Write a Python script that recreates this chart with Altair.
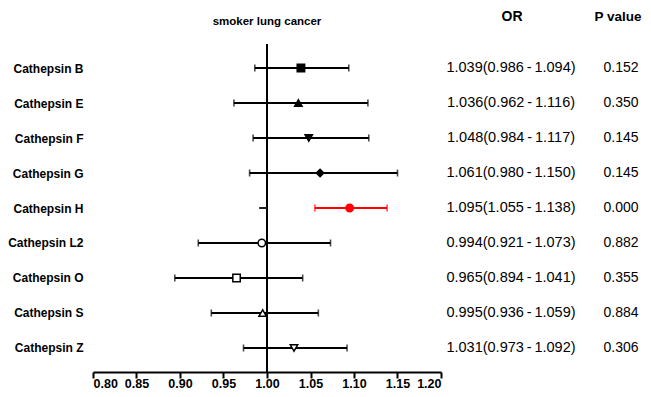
import altair as alt
import pandas as pd

names = ["Cathepsin B", "Cathepsin E", "Cathepsin F", "Cathepsin G", "Cathepsin H",
         "Cathepsin L2", "Cathepsin O", "Cathepsin S", "Cathepsin Z"]
odds = [1.039, 1.036, 1.048, 1.061, 1.095, 0.994, 0.965, 0.995, 1.031]
lower = [0.986, 0.962, 0.984, 0.980, 1.055, 0.921, 0.894, 0.936, 0.973]
upper = [1.094, 1.116, 1.117, 1.150, 1.138, 1.073, 1.041, 1.059, 1.092]
pvals = ["0.152", "0.350", "0.145", "0.145", "0.000", "0.882", "0.355", "0.884", "0.306"]
shapes = ["square", "triangle-up", "triangle-down", "diamond", "circle",
          "circle", "square", "triangle-up", "triangle-down"]
filled = [True, True, True, True, True, False, False, False, False]
colors = ["#000000"] * 4 + ["#ff0000"] + ["#000000"] * 4
x_ticks = [0.80, 0.85, 0.90, 0.95, 1.00, 1.05, 1.10, 1.15, 1.20]
# small stray stub drawn left of the reference line on the Cathepsin H row
stub_row = ["Cathepsin H"]
stub_from = [0.991]
stub_to = [1.0]

df = pd.DataFrame({
    "name": names, "or": odds, "lo": lower, "hi": upper, "p": pvals,
    "shape": shapes, "col": colors,
    "fillc": [c if f else "#ffffff" for c, f in zip(colors, filled)],
})
df["ortext"] = [f"{o:.3f}({l:.3f}\u2009-\u2009{h:.3f})" for o, l, h in zip(odds, lower, upper)]
stub_df = pd.DataFrame({"name": stub_row, "a": stub_from, "b": stub_to})

FONT = "Liberation Sans"
xscale = alt.Scale(domain=[0.8, 1.2], nice=False, zero=False)

xs = alt.X("or:Q", scale=xscale,
           axis=alt.Axis(values=x_ticks, format=".2f", title=None, grid=False,
                         domainColor="black", domainWidth=2, tickColor="black",
                         tickWidth=2, tickSize=6, labelFont=FONT, labelFontSize=12.5,
                         labelFontWeight="bold", labelColor="black",
                         labelBaseline="alphabetic", labelPadding=9))
ys = alt.Y("name:N", sort=names, scale=alt.Scale(type="point", padding=0.686),
           axis=alt.Axis(title=None, domain=False, ticks=False, grid=False,
                         labelFont=FONT, labelFontSize=12, labelFontWeight="bold",
                         labelColor="black", labelPadding=10))

base = alt.Chart(df)

refline = base.mark_rule(color="black", strokeWidth=2).encode(
    x=alt.datum(1.0, type="quantitative"))

stub = alt.Chart(stub_df).mark_rule(color="#222222", strokeWidth=2).encode(
    x=alt.X("a:Q", scale=xscale), x2="b:Q", y=ys)

ci = base.mark_rule(strokeWidth=1.8).encode(
    x=alt.X("lo:Q", scale=xscale), x2="hi:Q", y=ys,
    color=alt.Color("col:N", scale=None))

cap_lo = base.mark_tick(thickness=1.6, size=7).encode(
    x=alt.X("lo:Q", scale=xscale), y=ys, color=alt.Color("col:N", scale=None))
cap_hi = base.mark_tick(thickness=1.6, size=7).encode(
    x=alt.X("hi:Q", scale=xscale), y=ys, color=alt.Color("col:N", scale=None))

pts = base.mark_point(size=55, strokeWidth=1.5, opacity=1).encode(
    x=xs, y=ys,
    shape=alt.Shape("shape:N", scale=None),
    stroke=alt.Stroke("col:N", scale=None),
    fill=alt.Fill("fillc:N", scale=None))

or_txt = base.mark_text(font=FONT, fontSize=14.5, color="black", align="center",
                        baseline="middle").encode(
    text="ortext:N", y=ys, x=alt.value(418))
p_txt = base.mark_text(font=FONT, fontSize=14, color="black", align="center",
                       baseline="middle").encode(
    text="p:N", y=ys, x=alt.value(528))

hdr_or = alt.Chart(pd.DataFrame({"h": ["OR"]})).mark_text(
    font=FONT, fontSize=14, fontWeight="bold", color="black", baseline="middle").encode(
    text="h:N", x=alt.value(419), y=alt.value(-27))
hdr_p = alt.Chart(pd.DataFrame({"h": ["P value"]})).mark_text(
    font=FONT, fontSize=13.5, fontWeight="bold", color="black", baseline="middle").encode(
    text="h:N", x=alt.value(525), y=alt.value(-27))
title = alt.Chart(pd.DataFrame({"h": ["smoker lung cancer"]})).mark_text(
    font=FONT, fontSize=11.5, fontWeight="bold", color="black", baseline="middle").encode(
    text="h:N", x=alt.value(174), y=alt.value(-22))

chart = alt.layer(refline, stub, ci, cap_lo, cap_hi, pts, or_txt, p_txt,
                  hdr_or, hdr_p, title).properties(
    width=348, height=328,
    autosize=alt.AutoSizeParams(type="none"),
    padding={"left": 85, "top": 36, "right": 202, "bottom": 17},
).configure_view(stroke="transparent", strokeWidth=0)

chart.save("out.html", embed_options={"renderer": "svg", "actions": False})
